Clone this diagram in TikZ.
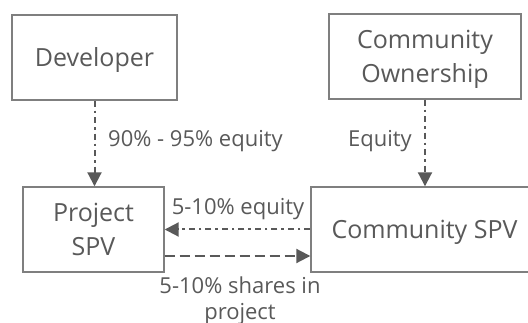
\documentclass[tikz,border=0pt]{standalone}
\usepackage{fontspec}
\setmainfont{Open Sans}
\usetikzlibrary{arrows.meta}
\definecolor{boxline}{HTML}{7F7F7F}
\definecolor{inkgray}{HTML}{595959}
\tikzset{
  entity/.style={draw=boxline, line width=1.4pt, fill=white, inner sep=0pt,
    align=center, text=inkgray, text depth=0pt,
    font=\fontsize{25}{34}\selectfont},
  flow/.style={draw=inkgray, line width=2pt,
    -{Triangle[length=14pt,width=14pt]}},
  dashdot/.style={dash pattern=on 6pt off 4pt on 2.5pt off 4pt},
  longdash/.style={dash pattern=on 10pt off 5pt},
  lbl/.style={text=inkgray, inner sep=0pt, align=center,
    font=\fontsize{22}{27}\selectfont}
}
\begin{document}
\begin{tikzpicture}[x=1pt,y=-1pt]
\useasboundingbox (0,0) rectangle (528,323);
\clip (0,0) rectangle (528,323);
\fill[white] (0,0) rectangle (528,323);

% parties
\node[entity, minimum width=165pt, minimum height=85pt] (dev) at (94.5,57.5) {Developer};
\node[entity, minimum width=192pt, minimum height=85pt] (own) at (425,56.5) {Community\\Ownership};
\node[entity, minimum width=141pt, minimum height=85pt] (pspv) at (93.5,229.5) {Project\\SPV};
\node[entity, minimum width=227pt, minimum height=85pt] (cspv) at (424.5,229.5) {Community SPV};

% equity flows
\draw[flow, dashdot] (dev.south) -- (dev.south |- pspv.north);
\draw[flow, dashdot] (own.south) -- (own.south |- cspv.north);
\draw[flow, dashdot] (cspv.west) -- (pspv.east);
\draw[flow, longdash] ([yshift=-26.5pt]pspv.east) -- ([yshift=-26.5pt]cspv.west);

% labels
\node[lbl, anchor=base west] (l1) at (108,147) {90\% - 95\% equity};
\node[lbl, anchor=base east] (l2) at (412,147) {Equity};
\node[lbl, anchor=base] (l3) at (238,215) {5-10\% equity};
\node[lbl, anchor=base] (l4) at (240,320) {5-10\% shares in\\project};
\end{tikzpicture}
\end{document}
